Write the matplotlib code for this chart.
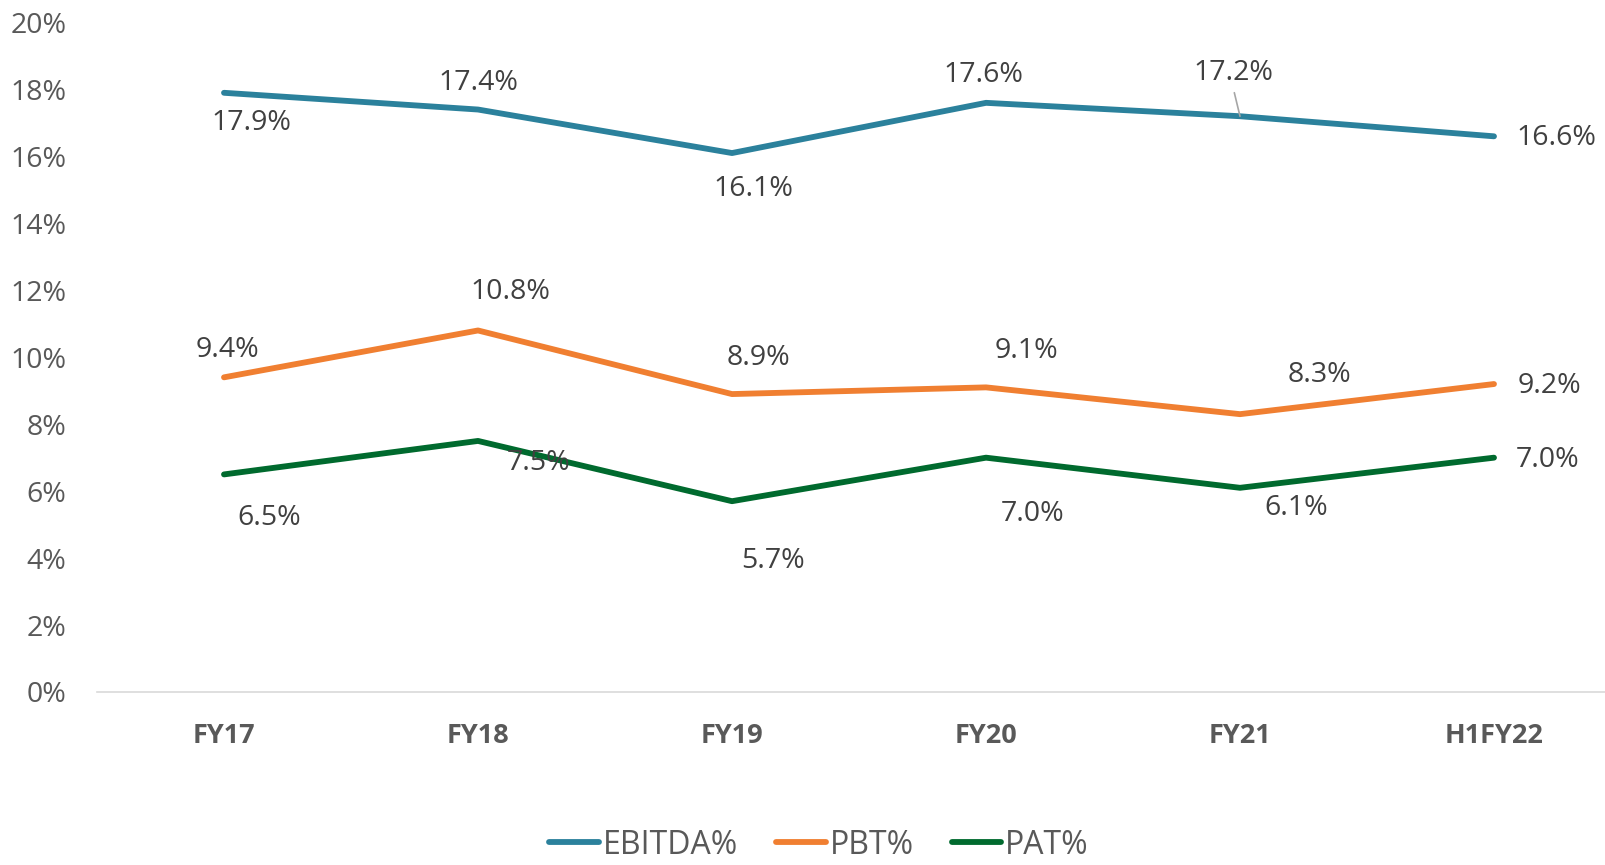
import matplotlib
matplotlib.use("Agg")
import matplotlib.pyplot as plt
from matplotlib.ticker import FuncFormatter

categories = ["FY17", "FY18", "FY19", "FY20", "FY21", "H1FY22"]
ebitda = [17.9, 17.4, 16.1, 17.6, 17.2, 16.6]
pbt = [9.4, 10.8, 8.9, 9.1, 8.3, 9.2]
pat = [6.5, 7.5, 5.7, 7.0, 6.1, 7.0]
series_names = ["EBITDA%", "PBT%", "PAT%"]
y_ticks = [0, 2, 4, 6, 8, 10, 12, 14, 16, 18, 20]

colors = ["#2B819C", "#F07F31", "#006A2E"]
# label offsets in pixels (dx, dy) relative to each point (style only)
offsets = [
    [(27, -30), (0, 27), (21, -36), (-3, 28), (-7, 43), (62, -2)],
    [(3, 27), (32, 38), (26, 36), (40, 36), (79, 39), (55, -2)],
    [(45, -44), (61, -22), (41, -60), (47, -56), (56, -20), (54, -2)],
]

plt.rcParams["font.family"] = ["Open Sans", "DejaVu Sans"]

fig = plt.figure(figsize=(16.06, 8.65), dpi=100)
ax = fig.add_axes([97 / 1606, 1 - 692 / 865, 1524 / 1606, (692 - 22.5) / 865])

x = list(range(len(categories)))
all_series = [ebitda, pbt, pat]
for vals, name, c, offs in zip(all_series, series_names, colors, offsets):
    ax.plot(x, vals, color=c, lw=4.2, solid_capstyle="round", solid_joinstyle="round", label=name, zorder=3)
    for xi, v, (dx, dy) in zip(x, vals, offs):
        if name == "EBITDA%" and categories[xi] == "FY21":
            ax.annotate(f"{v:.1f}%", xy=(xi, v), xytext=(dx, dy), textcoords="offset pixels",
                        ha="center", va="center", fontsize=20.5, color="#404040", zorder=4,
                        arrowprops=dict(arrowstyle="-", color="#A6A6A6", lw=1.2,
                                        shrinkA=2, shrinkB=0, relpos=(0.5, 0)))
        else:
            ax.annotate(f"{v:.1f}%", xy=(xi, v), xytext=(dx, dy), textcoords="offset pixels",
                        ha="center", va="center", fontsize=20.5, color="#404040", zorder=4)

ax.set_xlim(-0.5, 5.5)
ax.set_ylim(0, 20)
ax.set_yticks(y_ticks)
ax.yaxis.set_major_formatter(FuncFormatter(lambda v, p: f"{v:.0f}%"))
ax.set_xticks(x)
ax.set_xticklabels(categories, fontsize=19.5, fontweight="bold", color="#595959")
ax.tick_params(axis="y", labelsize=20.5, labelcolor="#595959", length=0, pad=22)
ax.tick_params(axis="x", length=0, pad=22.5)
for s in ["top", "right", "left"]:
    ax.spines[s].set_visible(False)
ax.spines["bottom"].set_color("#D9D9D9")
ax.spines["bottom"].set_linewidth(1.2)

leg = fig.legend(loc="center", bbox_to_anchor=(819 / 1606, 1 - 845 / 865), ncol=3, frameon=False,
                 fontsize=23, handlelength=1.55, handletextpad=0.12, columnspacing=1.2,
                 borderpad=0.2)
for t in leg.get_texts():
    t.set_color("#595959")

fig.savefig("out.png", dpi=100)
